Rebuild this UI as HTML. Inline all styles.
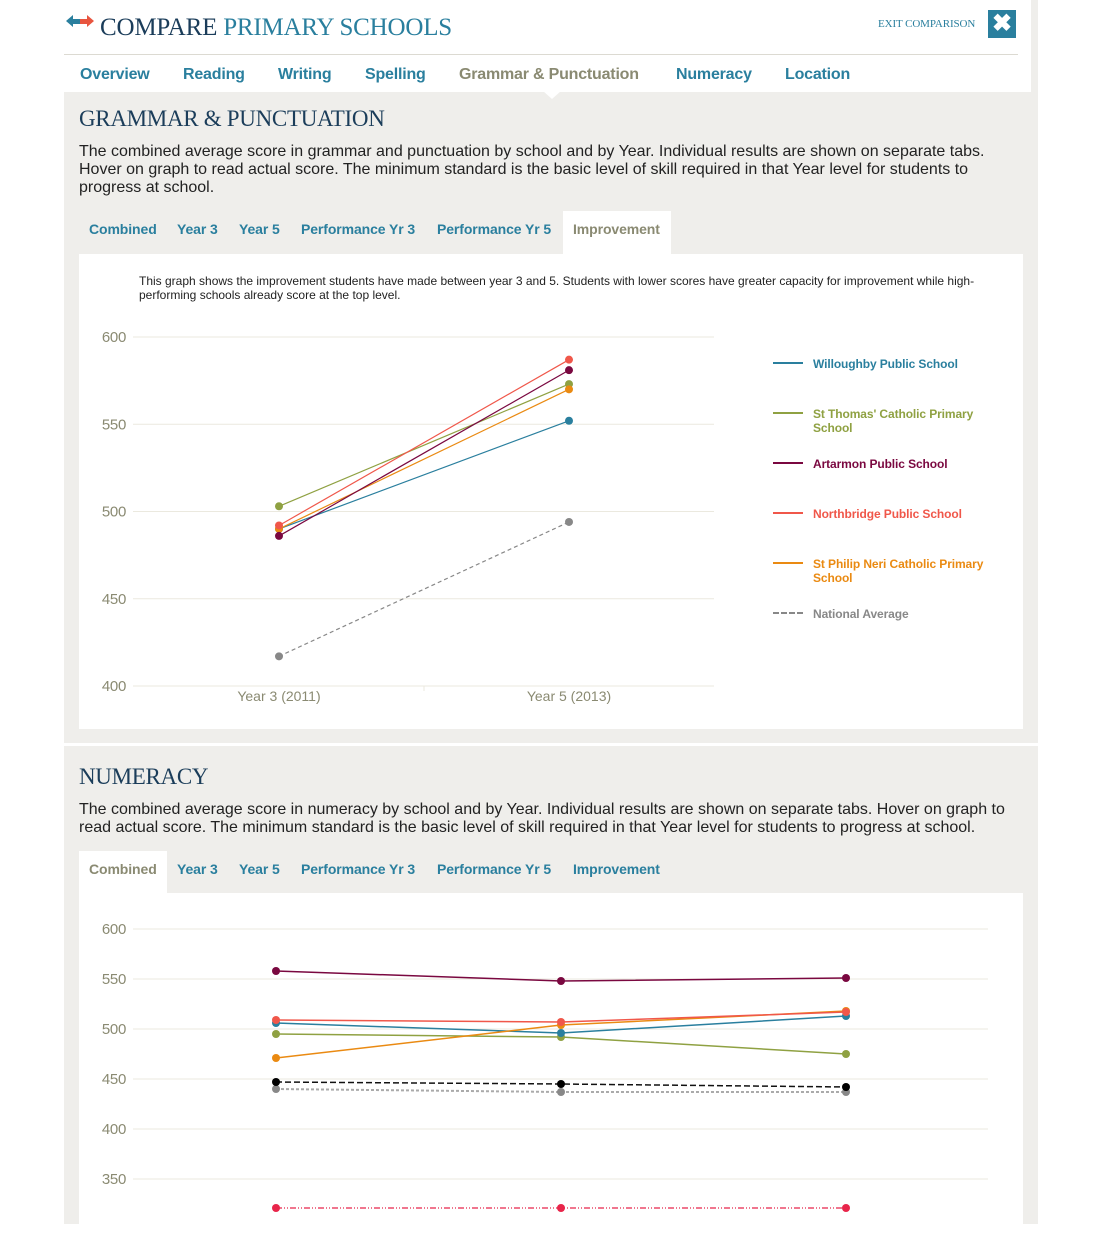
<!DOCTYPE html>
<html><head><meta charset="utf-8">
<style>
*{margin:0;padding:0;box-sizing:border-box}
body{width:1101px;height:1224px;background:#fff;position:relative;overflow:hidden;font-family:"Liberation Sans",Arial,sans-serif}
.abs{position:absolute}
.gray{background:#efeeeb}
.nav{position:absolute;top:66px;font-size:16px;font-weight:bold;color:#2a7f9e;letter-spacing:-0.2px}
.tab{position:absolute;font-size:14px;font-weight:bold;color:#2a7f9e;letter-spacing:-0.1px}
.h2{position:absolute;left:79px;font-family:"Liberation Serif",serif;font-size:23px;color:#1b3d5a;letter-spacing:-0.3px}
.desc{position:absolute;left:79px;font-size:16px;line-height:18px;color:#222;white-space:nowrap;letter-spacing:0px}
.leg{position:absolute;left:813px;font-size:12px;font-weight:bold;line-height:14px;letter-spacing:-0.1px}
.legl{position:absolute;left:773px;width:30px;height:0;border-top:2px solid}
</style></head><body>
<div class="abs" style="left:1031px;top:0;width:7px;height:92px;background:#efeeeb"></div>
<div class="abs gray" style="left:64px;top:92px;width:974px;height:651px"></div>
<div class="abs gray" style="left:64px;top:746px;width:974px;height:478px"></div>

<svg class="abs" style="left:66px;top:14px" width="30" height="16"><polygon points="0,7 7,1 7,5 14,5 14,10 7,10 7,13" fill="#2a7f9e"/><polygon points="28,7 21,1 21,5 14,5 14,10 21,10 21,13" fill="#e8553f"/></svg>
<div class="abs" style="left:100px;top:14px;font-family:'Liberation Serif',serif;font-size:25px;letter-spacing:-0.2px;color:#1b3d5a">COMPARE <span style="color:#2a7f9e">PRIMARY SCHOOLS</span></div>
<div class="abs" style="left:878px;top:18px;font-family:'Liberation Serif',serif;font-size:11px;color:#2a7f9e;letter-spacing:-0.1px">EXIT COMPARISON</div>
<div class="abs" style="left:988px;top:10px;width:28px;height:28px;background:#2a7f9e;color:#fff;font-size:24px;font-weight:bold;text-align:center;line-height:28px">✖</div>
<div class="abs" style="left:64px;top:54px;width:954px;height:1px;background:#dcdad2"></div>

<div class="nav" style="left:80px">Overview</div>
<div class="nav" style="left:183px">Reading</div>
<div class="nav" style="left:278px">Writing</div>
<div class="nav" style="left:365px">Spelling</div>
<div class="nav" style="left:459px;color:#8a8a72">Grammar &amp; Punctuation</div>
<div class="nav" style="left:676px">Numeracy</div>
<div class="nav" style="left:785px">Location</div>
<svg class="abs" style="left:543px;top:91px" width="18" height="9"><polygon points="0,0 18,0 9,8" fill="#fff"/></svg>

<div class="h2" style="top:106px">GRAMMAR &amp; PUNCTUATION</div>
<div class="desc" style="top:143px">The combined average score in grammar and punctuation by school and by Year. Individual results are shown on separate tabs.<br>Hover on graph to read actual score. The minimum standard is the basic level of skill required in that Year level for students to<br>progress at school.</div>

<div class="abs" style="left:563px;top:211px;width:108px;height:44px;background:#fff"></div>
<div class="tab" style="left:89px;top:221px">Combined</div>
<div class="tab" style="left:177px;top:221px">Year 3</div>
<div class="tab" style="left:239px;top:221px">Year 5</div>
<div class="tab" style="left:301px;top:221px">Performance Yr 3</div>
<div class="tab" style="left:437px;top:221px">Performance Yr 5</div>
<div class="tab" style="left:573px;top:221px;color:#8a8a72">Improvement</div>

<div class="abs" style="left:79px;top:254px;width:944px;height:475px;background:#fff"></div>
<div class="abs" style="left:139px;top:274px;font-size:12px;line-height:14px;color:#222;white-space:nowrap;letter-spacing:0px">This graph shows the improvement students have made between year 3 and 5. Students with lower scores have greater capacity for improvement while high-<br>performing schools already score at the top level.</div>
<svg id="c1" class="abs" style="left:0;top:0" width="1101" height="760"></svg>

<div class="legl" style="top:362px;border-color:#2a7f9e"></div>
<div class="leg" style="top:357px;color:#2a7f9e">Willoughby Public School</div>
<div class="legl" style="top:412px;border-color:#8fa142"></div>
<div class="leg" style="top:407px;color:#8fa142">St Thomas' Catholic Primary<br>School</div>
<div class="legl" style="top:462px;border-color:#7a0840"></div>
<div class="leg" style="top:457px;color:#7a0840">Artarmon Public School</div>
<div class="legl" style="top:512px;border-color:#f0574a"></div>
<div class="leg" style="top:507px;color:#f0574a">Northbridge Public School</div>
<div class="legl" style="top:562px;border-color:#ea8a12"></div>
<div class="leg" style="top:557px;color:#ea8a12">St Philip Neri Catholic Primary<br>School</div>
<div class="legl" style="top:612px;border-top:2px dashed #888"></div>
<div class="leg" style="top:607px;color:#888">National Average</div>

<div class="h2" style="top:764px">NUMERACY</div>
<div class="desc" style="top:801px">The combined average score in numeracy by school and by Year. Individual results are shown on separate tabs. Hover on graph to<br>read actual score. The minimum standard is the basic level of skill required in that Year level for students to progress at school.</div>
<div class="abs" style="left:79px;top:851px;width:88px;height:44px;background:#fff"></div>
<div class="tab" style="left:89px;top:861px;color:#8a8a72">Combined</div>
<div class="tab" style="left:177px;top:861px">Year 3</div>
<div class="tab" style="left:239px;top:861px">Year 5</div>
<div class="tab" style="left:301px;top:861px">Performance Yr 3</div>
<div class="tab" style="left:437px;top:861px">Performance Yr 5</div>
<div class="tab" style="left:573px;top:861px">Improvement</div>
<div class="abs" style="left:79px;top:893px;width:944px;height:340px;background:#fff"></div>
<svg id="c2" class="abs" style="left:0;top:0" width="1101" height="1224"></svg>

<script>
// Chart 1 data
const c1Categories = ["Year 3 (2011)", "Year 5 (2013)"];
const c1Ticks = [400, 450, 500, 550, 600];
const c1Names = ["Willoughby", "St Thomas", "Artarmon", "Northbridge", "St Philip Neri", "National Average"];
const c1Willoughby = [490, 552];
const c1StThomas = [503, 573];
const c1Artarmon = [486, 581];
const c1Northbridge = [492, 587];
const c1StPhilip = [490, 570];
const c1National = [417, 494];

// Chart 2 data
const c2Categories = ["2011", "2012", "2013"];
const c2Ticks = [300, 350, 400, 450, 500, 550, 600];
const c2Artarmon = [558, 548, 551];
const c2Northbridge = [509, 507, 517];
const c2Willoughby = [506, 496, 513];
const c2StThomas = [495, 492, 475];
const c2StPhilip = [471, 504, 518];
const c2National = [447, 445, 442];
const c2State = [440, 437, 437];
const c2MinStandard = [321, 321, 321];

const NS = "http://www.w3.org/2000/svg";
function mk(svg, tag, attrs){const e=document.createElementNS(NS,tag);for(const k in attrs)e.setAttribute(k,attrs[k]);svg.appendChild(e);return e;}

function drawChart(svg, cfg){
  const y = v => cfg.y0 + (cfg.vmax - v) * cfg.ky;
  const x = i => cfg.xs + i * cfg.xstep;
  cfg.ticks.forEach(t=>{
    const yy=y(t);
    if(yy>1224) return;
    const g=mk(svg,"line",{x1:cfg.gl,x2:cfg.gr,y1:yy,y2:yy,stroke:"#ebe9df","stroke-width":1});
    
    
    const tx=mk(svg,"text",{x:126,y:yy+5,"text-anchor":"end","font-size":15,fill:"#8a8a72","font-family":"Liberation Sans, sans-serif","letter-spacing":"-0.3"});
    tx.textContent=t;
    
    
  });
  if(cfg.xlabels){
    cfg.categories.forEach((c,i)=>{
      const tx=mk(svg,"text",{x:x(i),y:y(cfg.ticks[0])+15,"text-anchor":"middle","font-size":14,fill:"#8a8a72","font-family":"Liberation Sans, sans-serif"});
      tx.textContent=c;
      
      
    });
    const tk=mk(svg,"line",{x1:(x(0)+x(1))/2,x2:(x(0)+x(1))/2,y1:y(cfg.ticks[0]),y2:y(cfg.ticks[0])+5,stroke:"#ebe9df"});
    
    
  }
  cfg.series.forEach(s=>{
    const pts=s.v.map((v,i)=>x(i)+","+y(v)).join(" ");
    const pl=mk(svg,"polyline",{points:pts,fill:"none",stroke:s.c,"stroke-width":s.w||1.2});
    if(s.dash) pl.setAttribute("stroke-dasharray",s.dash);
    
    
    s.v.forEach((v,i)=>{
      const d=mk(svg,"circle",{cx:x(i),cy:y(v),r:4,fill:s.mc||s.c});
      
      
    });
  });
}

drawChart(document.getElementById("c1"),{
  y0:337, vmax:600, ky:349/200, xs:279, xstep:290, gl:133, gr:714,
  ticks:c1Ticks, categories:c1Categories, xlabels:true,
  series:[
    {v:c1National,c:"#888",dash:"4,3"},
    {v:c1Willoughby,c:"#2a7f9e"},
    {v:c1StThomas,c:"#8fa142"},
    {v:c1StPhilip,c:"#ea8a12"},
    {v:c1Artarmon,c:"#7a0840"},
    {v:c1Northbridge,c:"#f0574a"}
  ]
});
drawChart(document.getElementById("c2"),{
  y0:929, vmax:600, ky:1, xs:276, xstep:285, gl:133, gr:988,
  ticks:c2Ticks, categories:c2Categories, xlabels:false,
  series:[
    {v:c2MinStandard,c:"#e8254a",dash:"6,2,1,2,1,2",mc:"#e8254a"},
    {v:c2State,c:"#aaa",dash:"3,2",mc:"#888",w:2},
    {v:c2National,c:"#111",dash:"6,3",mc:"#000",w:1.5},
    {v:c2StThomas,c:"#8fa142",w:1.5},
    {v:c2Willoughby,c:"#2a7f9e",w:1.5},
    {v:c2StPhilip,c:"#ea8a12",w:1.5},
    {v:c2Northbridge,c:"#f0574a",w:1.5},
    {v:c2Artarmon,c:"#7a0840",w:1.5}
  ]
});
</script>
</body></html>
